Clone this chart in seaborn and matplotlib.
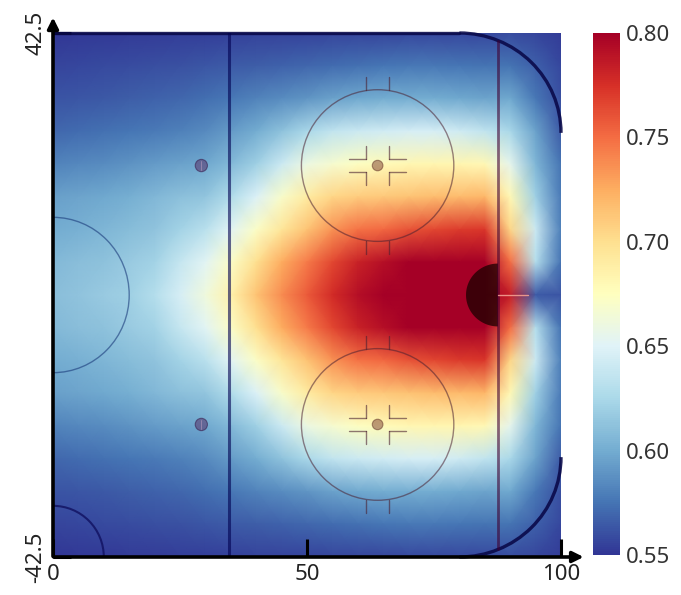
import numpy as np
import pandas as pd
import matplotlib
matplotlib.use("Agg")
import matplotlib.pyplot as plt
import seaborn as sns
from matplotlib.patches import Ellipse, Arc, Polygon

# grid positions (ft) - offensive half of the rink
x_ft = [0, 5, 10, 15, 20, 25, 30, 35, 40, 45, 50, 55, 60, 65, 70, 75, 80, 85, 90, 95, 100]
y_ft = [42.5, 37.19, 31.88, 26.56, 21.25, 15.94, 10.63, 5.31, 0.0]

# values, one row per y (upper half, rink is symmetric)
v_y4250 = [0.550, 0.551, 0.551, 0.552, 0.552, 0.553, 0.553, 0.554, 0.555, 0.555, 0.555,
           0.556, 0.556, 0.556, 0.557, 0.557, 0.557, 0.557, 0.559, 0.556, 0.552]
v_y3719 = [0.556, 0.557, 0.558, 0.559, 0.560, 0.561, 0.563, 0.565, 0.566, 0.568, 0.570,
           0.572, 0.574, 0.576, 0.577, 0.577, 0.576, 0.575, 0.575, 0.567, 0.557]
v_y3188 = [0.562, 0.563, 0.564, 0.566, 0.568, 0.570, 0.573, 0.577, 0.582, 0.586, 0.590,
           0.595, 0.598, 0.600, 0.600, 0.600, 0.598, 0.596, 0.598, 0.577, 0.560]
v_y2656 = [0.570, 0.572, 0.574, 0.576, 0.578, 0.581, 0.585, 0.592, 0.600, 0.612, 0.625,
           0.635, 0.640, 0.643, 0.645, 0.645, 0.642, 0.635, 0.625, 0.595, 0.565]
v_y2125 = [0.582, 0.584, 0.586, 0.589, 0.592, 0.595, 0.598, 0.607, 0.620, 0.640, 0.660,
           0.668, 0.674, 0.678, 0.681, 0.682, 0.682, 0.680, 0.655, 0.605, 0.575]
v_y1594 = [0.594, 0.596, 0.598, 0.601, 0.606, 0.611, 0.614, 0.628, 0.648, 0.670, 0.690,
           0.705, 0.710, 0.712, 0.715, 0.717, 0.718, 0.720, 0.680, 0.620, 0.578]
v_y1063 = [0.600, 0.602, 0.605, 0.609, 0.613, 0.622, 0.632, 0.652, 0.672, 0.695, 0.715,
           0.735, 0.748, 0.752, 0.760, 0.765, 0.770, 0.772, 0.705, 0.640, 0.580]
v_y0531 = [0.607, 0.610, 0.612, 0.617, 0.622, 0.637, 0.652, 0.672, 0.700, 0.725, 0.745,
           0.765, 0.782, 0.792, 0.800, 0.810, 0.815, 0.815, 0.750, 0.630, 0.575]
v_y0000 = [0.610, 0.613, 0.617, 0.620, 0.630, 0.645, 0.662, 0.685, 0.715, 0.738, 0.758,
           0.777, 0.792, 0.803, 0.815, 0.820, 0.820, 0.820, 0.785, 0.565, 0.562]

cbar_ticks = [0.55, 0.60, 0.65, 0.70, 0.75, 0.80]

# build the full table (mirror the upper half)
upper = np.array([v_y4250, v_y3719, v_y3188, v_y2656, v_y2125,
                  v_y1594, v_y1063, v_y0531, v_y0000])
grid = np.vstack([upper, upper[-2::-1]])
y_full = y_ft + [-y for y in y_ft[-2::-1]]
df = pd.DataFrame(grid, index=y_full, columns=x_ft)

sns.set_theme(style="white")
plt.rcParams["font.family"] = ["Noto Sans", "DejaVu Sans"]

fig = plt.figure(figsize=(6.81, 5.95), dpi=100)
pos = [53 / 681, 38 / 595, 508 / 681, 524 / 595]
ax = fig.add_axes(pos)
cax = fig.add_axes([593 / 681, 40 / 595, 27 / 681, 522 / 595])

sns.heatmap(df, ax=ax, cmap="RdYlBu_r", vmin=0.55, vmax=0.80, cbar_ax=cax,
            shading="gouraud", xticklabels=False, yticklabels=False)
# smooth the same table (bicubic) on top of the seaborn mesh
nx, ny = len(x_ft), len(y_full)
ax.imshow(df.values, cmap="RdYlBu_r", vmin=0.55, vmax=0.80, interpolation="bicubic",
          extent=(-0.5, nx - 0.5, ny - 0.5, -0.5), aspect="auto")
ax.set_xlim(0, nx - 1)
ax.set_ylim(ny - 1, 0)
ax.set_xlabel("")
ax.set_ylabel("")

cbar = ax.collections[0].colorbar
cbar.outline.set_visible(False)
cbar.set_ticks(cbar_ticks)
cbar.set_ticklabels([f"{t:.2f}" for t in cbar_ticks])
cbar.ax.tick_params(length=0, labelsize=16, pad=4, labelcolor="#333333")

# rink drawing on top, in feet
rk = fig.add_axes(pos)
rk.set_xlim(0, 100)
rk.set_ylim(-42.5, 42.5)
rk.patch.set_alpha(0)
for s in rk.spines.values():
    s.set_visible(False)

board = dict(color="#0a0a4a", lw=2.4, alpha=0.9, clip_on=False)
rk.plot([0, 80], [42.5, 42.5], **board)
rk.add_patch(Arc((80, 26.3), 40, 32.4, theta1=0, theta2=90, **board))
rk.add_patch(Arc((80, -26.3), 40, 32.4, theta1=270, theta2=360, **board))

# blue line and goal line
rk.plot([34.7, 34.7], [-42.5, 42.5], color="#000050", lw=2.2, alpha=0.6)
rk.plot([87.6, 87.6], [-41.2, 41.2], color="#400030", lw=2.0, alpha=0.6)

# center circle and referee crease
rk.add_patch(Ellipse((0, 0), 30, 25.2, fill=False, ec="#1a3a7a", lw=1.0, alpha=0.6))
rk.add_patch(Arc((0, -42.5), 20, 16.6, theta1=0, theta2=90, color="#101060", lw=1.5, alpha=0.8))

# goal crease (dark half disc) and net
t = np.linspace(np.pi / 2, 3 * np.pi / 2, 60)
rk.add_patch(Polygon(np.c_[87.6 + 6.3 * np.cos(t), 5.1 * np.sin(t)], closed=True,
                     fc="#1a0000", ec="none", alpha=0.75))
rk.plot([87.6, 93.5], [0, 0], color="#f4a090", lw=1.0, alpha=0.9)

circ_col = "#4a2030"
for cy in (21, -21):
    # neutral zone dots
    rk.add_patch(Ellipse((29.2, cy), 2.4, 2.0, fc="#5a3a70", ec="#3a2050", lw=0.8, alpha=0.6))
    rk.plot([29.2, 29.2], [cy - 0.8, cy + 0.8], color="#c0a0c0", lw=0.6, alpha=0.6)
    # faceoff circle
    rk.add_patch(Ellipse((63.9, cy), 30, 24.6, fill=False, ec=circ_col, lw=1.0, alpha=0.55))
    rk.add_patch(Ellipse((63.9, cy), 2.1, 1.7, fc="#7a3a30", ec="#5a2a20", lw=0.8, alpha=0.5))
    for hx in (61.6, 66.2):
        rk.plot([hx, hx], [cy + 12.3, cy + 14.3], color=circ_col, lw=1.0, alpha=0.6)
        rk.plot([hx, hx], [cy - 12.3, cy - 14.3], color=circ_col, lw=1.0, alpha=0.6)
    for sx in (-1, 1):
        for sy in (-1, 1):
            x0 = 63.9 + sx * 2.3
            y0 = cy + sy * 1.05
            rk.plot([x0, x0 + sx * 3.3], [y0, y0], color=circ_col, lw=1.0, alpha=0.6)
            rk.plot([x0, x0], [y0, y0 + sy * 2.1], color=circ_col, lw=1.0, alpha=0.6)

# axes: arrows, ticks
rk.annotate("", xy=(0, 1.035), xytext=(0, -0.004), xycoords="axes fraction",
            arrowprops=dict(arrowstyle="-|>", lw=2.6, color="black", mutation_scale=16),
            annotation_clip=False)
rk.annotate("", xy=(1.05, 0), xytext=(-0.004, 0), xycoords="axes fraction",
            arrowprops=dict(arrowstyle="-|>", lw=2.6, color="black", mutation_scale=16),
            annotation_clip=False)
rk.set_xticks([0, 50, 100])
rk.set_xticklabels(["0", "50", "100"])
rk.set_yticks([-42.5, 42.5])
rk.set_yticklabels(["-42.5", "42.5"], rotation=90, va="center")
rk.tick_params(bottom=True, left=True, direction="in", length=13, width=2.2,
               color="black", labelsize=16, pad=5, labelcolor="#222222")

fig.savefig("out.png", dpi=100)
